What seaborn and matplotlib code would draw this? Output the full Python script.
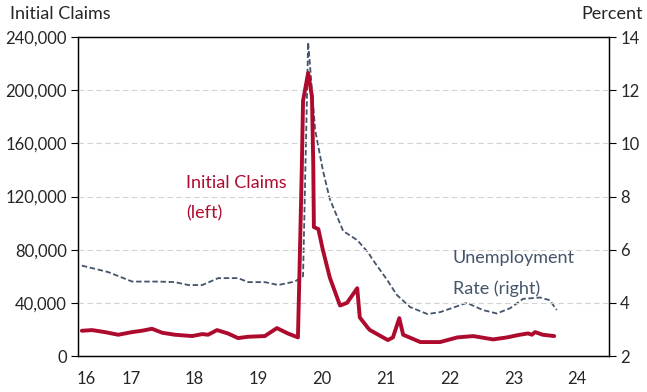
import matplotlib
matplotlib.use("Agg")
import matplotlib.pyplot as plt
import seaborn as sns
import pandas as pd

# initial claims (left axis), x in fractional years
claims_year = [2016.73, 2016.89, 2017.09, 2017.30, 2017.52, 2017.67, 2017.83, 2017.99,
               2018.19, 2018.46, 2018.62, 2018.71, 2018.85, 2019.02, 2019.18, 2019.34,
               2019.60, 2019.79, 2019.96, 2020.12, 2020.14, 2020.18, 2020.20, 2020.28,
               2020.34, 2020.36, 2020.37, 2020.44, 2020.51, 2020.62, 2020.78, 2020.89,
               2021.05, 2021.09, 2021.22, 2021.25, 2021.53, 2021.61, 2021.71, 2021.77,
               2022.04, 2022.35, 2022.62, 2022.87, 2023.18, 2023.40, 2023.60, 2023.73,
               2023.79, 2023.84, 2023.96, 2024.14]
claims = [19000, 19500, 18000, 16000, 18000, 19000, 20500, 17500,
          16000, 15000, 16500, 16000, 19500, 17000, 13500, 14500,
          15000, 21000, 17000, 14000, 55000, 140000, 192000, 213000,
          195000, 145000, 97000, 95500, 80000, 59000, 38000, 40000,
          51000, 29000, 21000, 19500, 12000, 14000, 28500, 16000,
          10500, 10500, 14000, 15000, 12500, 14000, 16000, 17000,
          16000, 18000, 16000, 15000]

# unemployment rate (right axis)
unemp_year = [2016.73, 2017.14, 2017.52, 2017.93, 2018.19, 2018.40, 2018.62, 2018.87,
              2019.18, 2019.34, 2019.60, 2019.81, 2020.07, 2020.20, 2020.28, 2020.39,
              2020.51, 2020.62, 2020.83, 2021.05, 2021.22, 2021.30, 2021.52, 2021.67,
              2021.88, 2022.15, 2022.35, 2022.77, 2023.02, 2023.24, 2023.45, 2023.65,
              2023.92, 2024.07, 2024.18]
unemp = [5.4, 5.16, 4.8, 4.8, 4.78, 4.67, 4.67, 4.93,
         4.93, 4.78, 4.78, 4.67, 4.8, 5.0, 13.8, 10.5,
         9.0, 7.9, 6.7, 6.36, 5.9, 5.6, 4.86, 4.3,
         3.84, 3.58, 3.65, 4.0, 3.73, 3.6, 3.8, 4.15,
         4.2, 4.1, 3.73]

year_labels = ["16", "17", "18", "19", "20", "21", "22", "23", "24"]
left_ticks = [0, 40000, 80000, 120000, 160000, 200000, 240000]
right_ticks = [2, 4, 6, 8, 10, 12, 14]

red = "#AE0A2E"
navy = "#44546A"

sns.set_style("white")
plt.rcParams["font.family"] = ["Lato", "DejaVu Sans"]

df_c = pd.DataFrame({"year": claims_year, "claims": claims})
df_u = pd.DataFrame({"year": unemp_year, "rate": unemp})

fig = plt.figure(figsize=(6.47, 3.92), dpi=100)
ax = fig.add_axes([0.1206, 0.0918, 0.8207, 0.8138])
ax2 = ax.twinx()

sns.lineplot(data=df_u, x="year", y="rate", ax=ax2, color=navy, linewidth=1.3,
             linestyle=(0, (3, 1.5)))
sns.lineplot(data=df_c, x="year", y="claims", ax=ax, color=red, linewidth=2.8)
ax.set_zorder(ax2.get_zorder() + 1)
ax.patch.set_visible(False)

ax.set_xlim(2016.67, 2025.0)
ax.set_ylim(0, 240000)
ax2.set_ylim(2, 14)

for t in left_ticks[1:-1]:
    ax.axhline(t, color="#D2D2D2", linewidth=0.8, linestyle=(0, (5, 3)), zorder=0)

ax.set_yticks(left_ticks)
ax.set_yticklabels([f"{v:,}" for v in left_ticks])
ax2.set_yticks(right_ticks)

ax.set_xticks(list(range(2017, 2026)))
ax.set_xticklabels([])
ax.set_xticks([2016.8] + [y + 0.5 for y in range(2017, 2025)], minor=True)
ax.set_xticklabels(year_labels, minor=True)
ax.tick_params(axis="x", which="major", direction="out", length=6, width=0.8, color="black")
ax.tick_params(axis="x", which="minor", length=0, labelsize=12, pad=11)
ax.tick_params(axis="y", direction="out", length=5, width=0.8, color="black", labelsize=12, pad=3, left=True)
ax2.tick_params(axis="y", direction="out", length=5, width=0.8, color="black", labelsize=12, pad=3, right=True)

for a in (ax, ax2):
    a.set_xlabel("")
    a.set_ylabel("")
    for s in a.spines.values():
        s.set_color("black")
        s.set_linewidth(0.9)

fig.text(0.015, 0.985, "Initial Claims", ha="left", va="top", fontsize=13)
fig.text(0.994, 0.985, "Percent", ha="right", va="top", fontsize=13)

ax.text(2018.36, 130000, "Initial Claims", color=red, fontsize=13, ha="left", va="center")
ax.text(2018.36, 107500, "(left)", color=red, fontsize=13, ha="left", va="center")
ax.text(2022.55, 73700, "Unemployment", color=navy, fontsize=13, ha="left", va="center")
ax.text(2022.55, 51000, "Rate (right)", color=navy, fontsize=13, ha="left", va="center")

fig.savefig("out.png", dpi=100)
plt.close(fig)
